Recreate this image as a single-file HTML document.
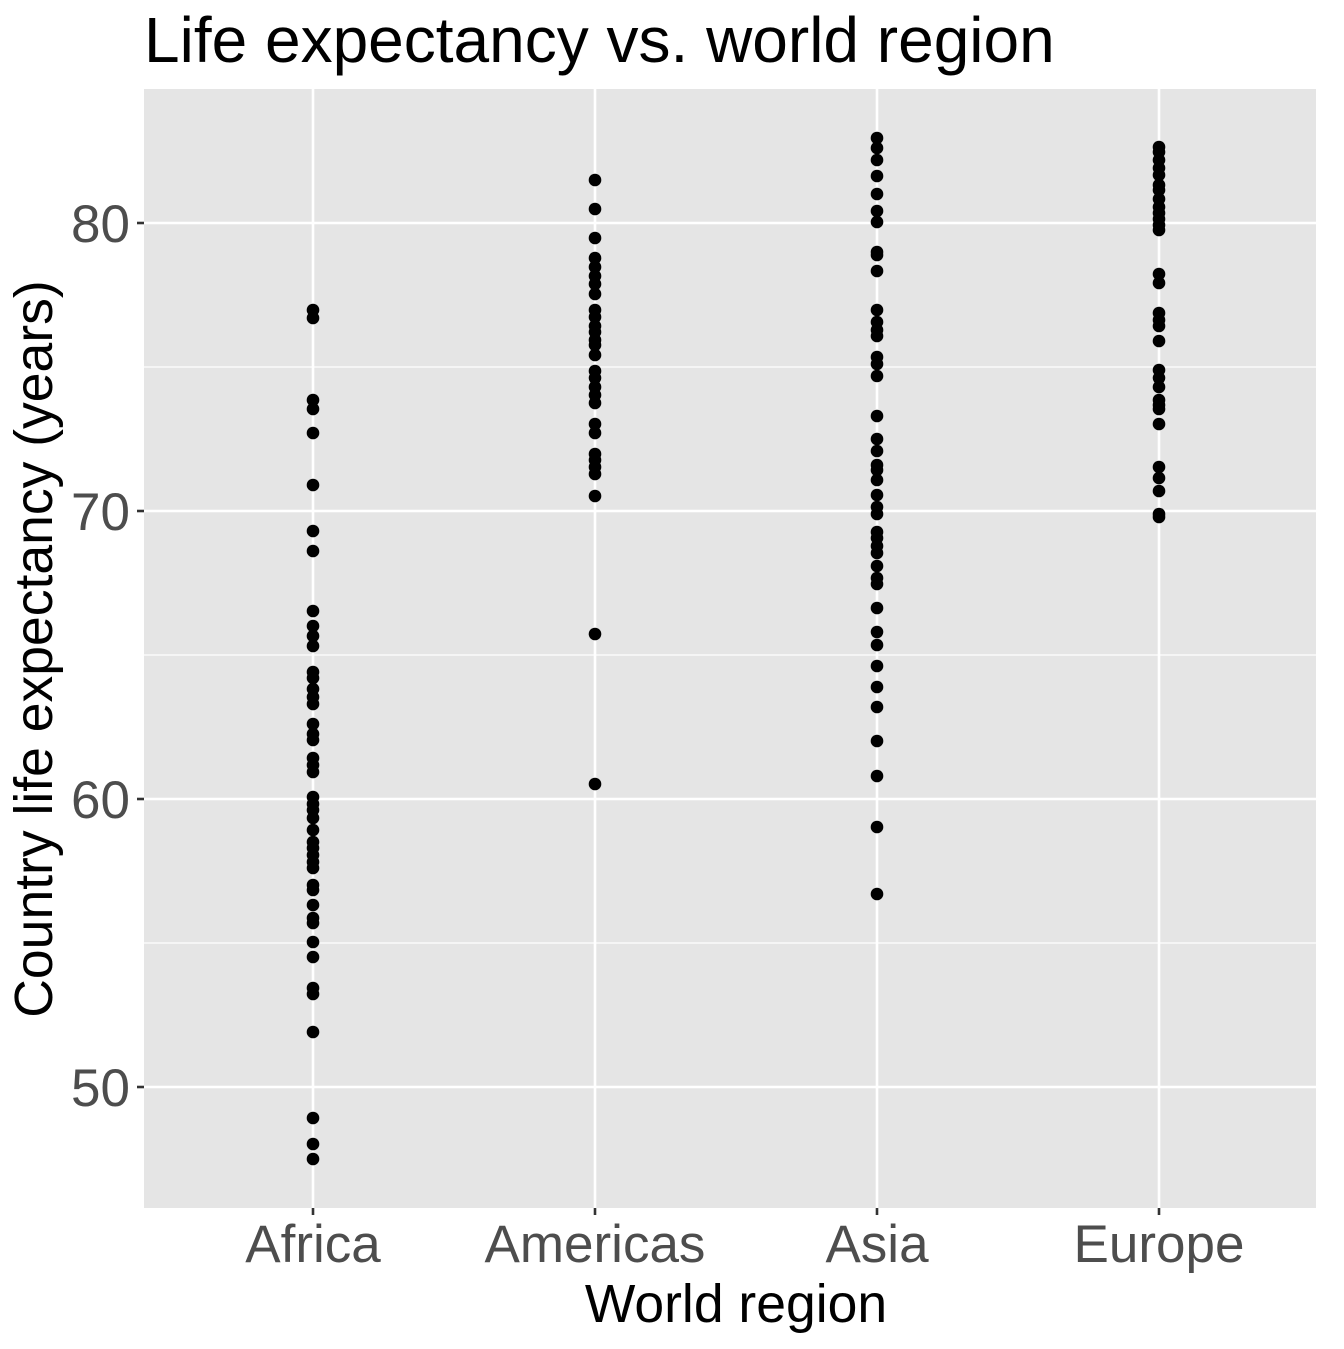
<!DOCTYPE html><html><head><meta charset="utf-8"><style>body{margin:0;background:#fff}</style></head><body>
<svg id="s" width="1344" height="1344" xmlns="http://www.w3.org/2000/svg" font-family="Liberation Sans, sans-serif">
<rect width="1344" height="1344" fill="#fff"/>
<rect x="144" y="89" width="1172" height="1119" fill="#e5e5e5"/>
<g stroke="#fff" stroke-width="1.3">
<line x1="144" x2="1316" y1="367" y2="367"/><line x1="144" x2="1316" y1="655" y2="655"/><line x1="144" x2="1316" y1="943" y2="943"/>
</g>
<g stroke="#fff" stroke-width="2.6">
<line x1="144" x2="1316" y1="223" y2="223"/><line x1="144" x2="1316" y1="511" y2="511"/><line x1="144" x2="1316" y1="799" y2="799"/><line x1="144" x2="1316" y1="1087" y2="1087"/>
<line y1="89" y2="1208" x1="313" x2="313"/><line y1="89" y2="1208" x1="595" x2="595"/><line y1="89" y2="1208" x1="877" x2="877"/><line y1="89" y2="1208" x1="1159" x2="1159"/>
</g>
<g stroke="#333" stroke-width="2.6">
<line x1="137" x2="144" y1="223" y2="223"/><line x1="137" x2="144" y1="511" y2="511"/><line x1="137" x2="144" y1="799" y2="799"/><line x1="137" x2="144" y1="1087" y2="1087"/>
<line y1="1208" y2="1215" x1="313" x2="313"/><line y1="1208" y2="1215" x1="595" x2="595"/><line y1="1208" y2="1215" x1="877" x2="877"/><line y1="1208" y2="1215" x1="1159" x2="1159"/>
</g>
<g fill="#4d4d4d" font-size="53" text-anchor="end">
<text x="130" y="242">80</text><text x="130" y="530">70</text><text x="130" y="818">60</text><text x="130" y="1106">50</text>
</g>
<g fill="#4d4d4d" font-size="53" text-anchor="middle">
<text x="313" y="1262">Africa</text><text x="595" y="1262">Americas</text><text x="877" y="1262">Asia</text><text x="1159" y="1262">Europe</text>
</g>
<text x="736" y="1322" font-size="53.5" text-anchor="middle">World region</text>
<text transform="translate(52,649) rotate(-90)" font-size="53.5" text-anchor="middle">Country life expectancy (years)</text>
<text x="144" y="62" font-size="64">Life expectancy vs. world region</text>
<g id="p" fill="#000"></g>
</svg>
<script>
var d={313:[310,318,400,409,433,485,531,551,611,626,636,646,672,678,689,697,704,724,734,740,758,765,772,797,804,810,818,830,842,848,855,862,868,885,890,905,918,923,942,957,988,994,1032,1118,1144,1159],
595:[180,209,238,258,267,276,284,294,310,317,326,332,340,345,355,371,378,387,395,403,424,433,454,460,467,474,496,634,784],
877:[138,148,160,176,194,211,222,252,255,271,310,322,330,336,357,364,376,416,439,451,465,470,480,495,507,514,532,538,546,553,566,578,584,608,632,645,666,687,707,741,776,827,894],
1159:[147,152,160,168,175,185,190,199,207,213,219,225,230,274,283,313,320,326,341,370,378,387,400,405,409,424,467,478,491,514,517]};
var g=document.getElementById('p'),h='';
for(var x in d)d[x].forEach(function(y){h+='<circle cx="'+x+'" cy="'+y+'" r="6.3"/>';});
g.innerHTML=h;
</script>
</body></html>
